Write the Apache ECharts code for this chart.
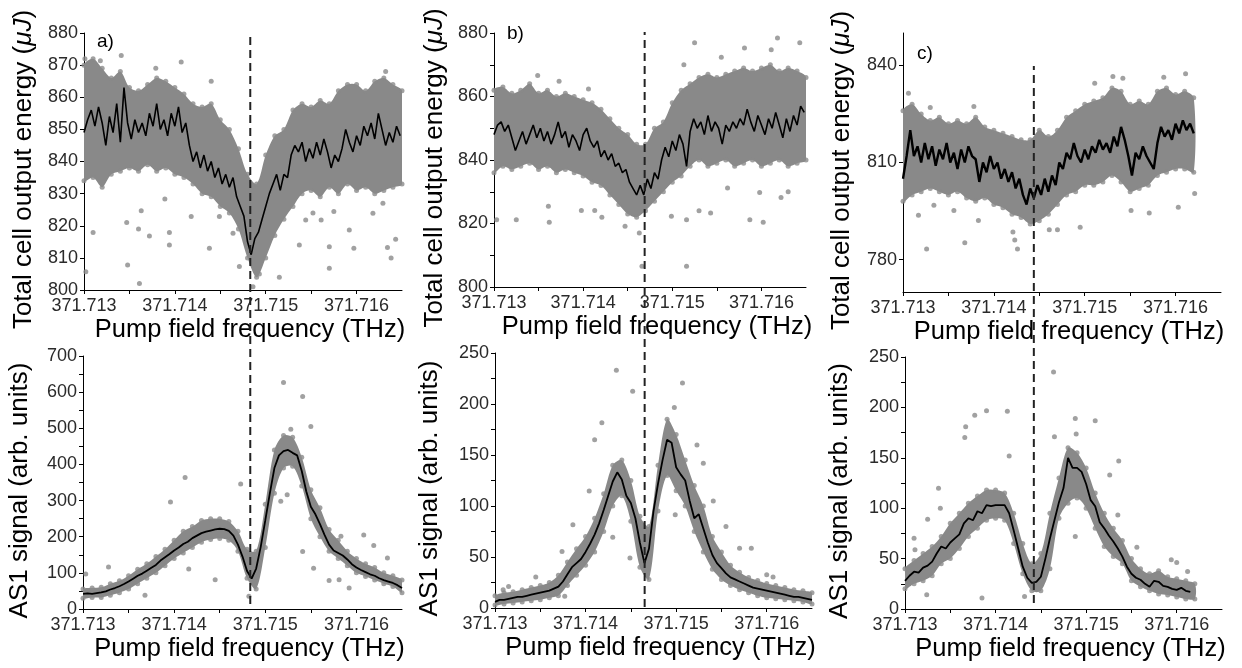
<!DOCTYPE html>
<html><head><meta charset="utf-8">
<script src="https://cdn.jsdelivr.net/npm/echarts@6/dist/echarts.min.js"></script>
<style>html,body{margin:0;padding:0;background:#fff}#c{width:1242px;height:668px}</style>
</head><body><div id="c"></div>
<script>
// ---------- common axis values ----------
const xMin = 371.713, xMax = 371.7165, xTickStep = 0.0005;
const xTitle = 'Pump field frequency (THz)';
const yTitleTop = 'Total cell output energy ({i|μJ})';
const yTitleBottom = 'AS1 signal (arb. units)';
const panelLabels = ['a)', 'b)', 'c)'];
const dashX = [371.71483, 371.71469, 371.71444];

// sampling of the traced curves (THz)
const lineStepTop = 0.00004, lineStepBottom = 0.00005, bandStep = 0.0001;

// ---------- panel a, top ----------
const aTopLine = [849,853,856,851,857,852,845,854,849,858,846,863,852,847,853,849,852,848,855,851,858,850,853,848,855,851,857,849,852,845,840,843,838,842,837,840,835,838,833,836,832,835,829,826,823,815,811,816,818,822,826,830,833,836,831,836,835,842,845,843,846,840,844,841,846,842,847,843,838,842,840,844,850,846,843,848,845,851,848,852,847,855,850,845,849,846,851,848];
const aTopUpper = [870,872,869,866,868,863,862,864,866,865,863,861,858,857,858,853,850,844,836,833,842,848,850,856,858,857,859,858,862,864,864,862,865,866,864,862];
const aTopLower = [834,835,832,836,837,838,837,839,837,838,836,835,833,830,829,826,824,819,810,804,810,817,822,826,830,831,829,832,830,833,831,832,830,831,832,833];
const aTopDots = [[371.71302,805.7],[371.7131,817.9],[371.71347,821],[371.71348,807.8],[371.71361,802],[371.71363,824.7],[371.7136,819],[371.71372,816.8],[371.71389,828.3],[371.71394,817.9],[371.71394,814],[371.71418,822.9],[371.71438,813],[371.71449,822.9],[371.71464,817.7],[371.71471,807.3],[371.71486,801],[371.71493,805],[371.71515,804],[371.71537,814],[371.71544,821.8],[371.71552,824],[371.71561,821.8],[371.7157,813.5],[371.7157,806.8],[371.71575,824.4],[371.71592,818.7],[371.71597,813],[371.71618,823.9],[371.71629,827],[371.71634,813.2],[371.71638,810],[371.71643,815.8],[371.71318,871.4],[371.71379,869],[371.71407,871],[371.7144,865],[371.71632,868],[371.71341,873],[371.71301,872]];

// ---------- panel a, bottom ----------
const aBotLine = [42,43,42,44,46,49,54,58,63,69,76,84,92,98,106,114,122,134,143,152,162,170,180,186,196,203,210,214,217,220,222,221,216,203,178,145,105,84,112,172,245,320,390,425,437,440,432,425,382,325,283,262,235,205,178,162,155,148,137,124,115,108,102,96,92,85,80,76,72,66,58];
const aBotUpper = [55,58,60,70,78,92,110,125,145,165,190,215,228,245,250,250,242,215,165,160,290,440,480,475,420,330,280,220,190,160,140,125,115,100,92,80];
const aBotLower = [30,32,32,38,45,55,70,85,100,120,140,155,170,185,192,195,190,160,85,55,170,320,390,395,340,250,200,160,140,120,100,90,80,70,62,45];
const aBotDots = [[371.71303,97],[371.71328,116],[371.71368,38],[371.71396,296],[371.71412,364],[371.71416,111],[371.71445,81],[371.71473,346],[371.71482,35],[371.7152,627],[371.71541,588],[371.7155,505],[371.71528,497],[371.71517,298],[371.71524,316],[371.71541,159],[371.71553,113],[371.7157,79],[371.71581,81],[371.71592,58],[371.71608,205],[371.71619,176],[371.71634,141],[371.71583,201]];

// ---------- panel b, top ----------
const bTopLine = [848,851,852,849,851,847,843,846,849,845,848,851,847,850,846,849,845,848,852,847,849,844,848,846,843,848,850,846,844,846,841,843,840,842,838,839,836,837,833,831,829,832,829,834,831,836,834,840,844,841,846,843,848,845,838,849,853,850,852,848,854,849,852,850,845,851,849,852,850,853,851,856,852,849,854,851,848,853,850,855,851,847,853,849,854,851,857,855];
const bTopUpper = [862,863,861,862,864,861,862,860,861,860,859,858,856,853,850,848,845,845,850,852,858,862,864,866,867,866,867,868,869,868,869,870,868,869,868,866];
const bTopLower = [836,838,837,838,839,837,838,836,837,836,835,833,832,829,826,823,822,824,827,830,833,835,838,840,838,839,840,838,839,840,838,839,840,838,839,840];
const bTopDots = [[371.71303,821.2],[371.71325,821.2],[371.71362,820.4],[371.71361,825.4],[371.71398,824.1],[371.71413,824.1],[371.71421,822],[371.71447,819.1],[371.71463,817],[371.71466,806.5],[371.71499,822.3],[371.71516,806.5],[371.71516,821.2],[371.7153,824],[371.71543,823.3],[371.71562,831.2],[371.71587,821.2],[371.71602,820.4],[371.71622,828.2],[371.7163,830],[371.71598,829.8],[371.71525,876.9],[371.71555,872.4],[371.71618,878.4],[371.71643,876.9],[371.71581,875.3],[371.71349,866.6],[371.71373,864.8],[371.71406,862.4],[371.71513,870],[371.71611,874.7]];

// ---------- panel b, bottom ----------
const bBotLine = [6,8,8,9,10,11,11,12,13,14,15,16,17,19,21,26,33,40,44,48,55,63,72,83,96,110,124,133,126,110,103,88,64,44,58,95,122,145,165,162,138,131,125,105,88,92,78,64,52,44,39,34,30,28,26,24,22,20,19,18,17,16,15,14,13,12,11,11,10,9,8];
const bBotUpper = [12,15,16,18,20,22,25,32,45,58,70,88,112,140,145,125,90,80,140,185,170,145,120,100,70,55,42,35,30,27,24,22,20,18,17,15];
const bBotLower = [3,4,5,6,7,8,10,12,22,32,42,55,75,100,110,85,40,28,95,130,115,100,75,55,38,28,22,18,15,12,10,9,8,7,6,4];
const bBotDots = [[371.71309,18],[371.71315,21],[371.71345,30.3],[371.71374,55.4],[371.71377,11.4],[371.71386,81.5],[371.71404,114.7],[371.7141,165],[371.71418,181.6],[371.71434,233],[371.7143,69.4],[371.71452,212.5],[371.71449,48.9],[371.71498,196.5],[371.71507,220.7],[371.71499,91.3],[371.71523,159.7],[371.7153,141.8],[371.71541,105],[371.71555,79.9],[371.7157,58.7],[371.71583,58.7],[371.716,32.6],[371.71607,30.3]];

// ---------- panel c, top ----------
const cTopLine = [805,812,820,812,815,810,816,811,815,809,814,811,816,810,813,808,814,810,815,812,811,804,810,807,812,808,810,805,808,804,807,802,805,800,797,802,799,803,800,805,801,806,803,810,808,813,811,816,812,810,814,811,815,813,817,814,816,813,818,815,821,817,812,806,813,811,815,812,810,808,816,821,818,820,817,822,819,823,820,822,819];
const cTopUpper = [826,828,825,823,824,822,823,822,824,821,820,819,818,817,817,820,818,820,824,826,828,829,830,833,832,828,829,828,832,833,831,832,830];
const cTopLower = [798,800,801,802,801,800,801,799,798,799,797,796,794,793,791,792,794,797,800,801,803,803,804,806,804,801,802,803,806,807,808,808,807];
const cTopDots = [[371.71326,783.3],[371.71368,785.2],[371.71383,792.1],[371.71421,788.5],[371.71423,786.1],[371.71426,783.3],[371.71461,789.2],[371.7147,789.2],[371.71495,790],[371.71317,793.7],[371.71334,796.8],[371.71356,795.2],[371.71551,795.2],[371.71571,794.4],[371.71603,796.2],[371.71621,800.4],[371.71511,834.5],[371.71531,836.6],[371.71542,836],[371.71611,837.4],[371.71587,836.3],[371.71306,831.4],[371.7133,827],[371.71378,827.3]];

// ---------- panel c, bottom ----------
const cBotLine = [28,33,37,36,41,43,47,55,62,60,66,70,74,85,90,88,97,95,103,102,103,103,103,95,78,60,42,31,26,27,32,50,70,88,106,120,150,140,140,136,124,108,102,86,80,73,67,60,52,42,35,31,29,25,22,28,27,23,22,20,19,21,18,17];
const cBotUpper = [40,48,55,62,72,85,95,105,112,118,118,115,95,65,45,55,95,130,160,155,140,115,95,80,68,50,40,35,38,32,30,28,25];
const cBotLower = [20,25,28,33,45,50,60,72,80,88,90,88,65,35,18,18,40,90,105,110,100,80,62,52,45,28,22,18,15,14,12,10,10];
const cBotDots = [[371.7131,70.3],[371.71311,58.7],[371.71324,14.2],[371.71325,89],[371.71337,119.7],[371.71339,100],[371.71366,170.2],[371.71367,180.7],[371.71377,192.3],[371.7139,196.6],[371.71413,196.2],[371.71415,151.7],[371.71385,10.9],[371.71464,235.2],[371.71465,170.8],[371.71488,189],[371.71489,173.5],[371.7151,186.7],[371.71526,132.9],[371.71536,146.8],[371.71535,93.3],[371.71556,61.3],[371.71594,48.8],[371.716,46.2],[371.71612,37.3],[371.71488,71.9],[371.71432,12.5]];

// ---------- styling ----------
const FONT = '"Liberation Sans", Arial, Helvetica, sans-serif';
const GRAY = '#898989';

const panels = [
  {grid:{left:84, top:33, width:318, height:257}, y:{min:800,max:880,interval:10}, minor:false, title:yTitleTop, gap:47, xGap:27,
   line:aTopLine, step:lineStepTop, up:aTopUpper, lo:aTopLower, dots:aTopDots, lw:1.6},
  {grid:{left:494, top:33, width:312, height:254}, y:{min:800,max:880,interval:20}, minor:true, title:yTitleTop, gap:46, xGap:27,
   line:bTopLine, step:lineStepTop, up:bTopUpper, lo:bTopLower, dots:bTopDots, lw:1.6},
  {grid:{left:903, top:33, width:318, height:259}, y:{min:770,max:850,interval:10, custom:[780,810,840]}, minor:false, title:yTitleTop, gap:48, xGap:27,
   line:cTopLine, step:lineStepTop, up:cTopUpper, lo:cTopLower, dots:cTopDots, lw:2.4},
  {grid:{left:83, top:356, width:319, height:253}, y:{min:0,max:700,interval:100}, minor:true, title:yTitleBottom, gap:50, xGap:27,
   line:aBotLine, step:lineStepBottom, up:aBotUpper, lo:aBotLower, dots:aBotDots, lw:1.8},
  {grid:{left:495, top:353, width:317, height:255}, y:{min:0,max:250,interval:50}, minor:true, title:yTitleBottom, gap:52, xGap:27,
   line:bBotLine, step:lineStepBottom, up:bBotUpper, lo:bBotLower, dots:bBotDots, lw:1.8},
  {grid:{left:905, top:357, width:317, height:252}, y:{min:0,max:250,interval:50}, minor:true, title:yTitleBottom, gap:52, xGap:27,
   line:cBotLine, step:lineStepBottom, up:cBotUpper, lo:cBotLower, dots:cBotDots, lw:1.8}
];
// dashed guide spans (one per column)
const dashGrids = [
  {left:84, top:33, width:318, height:571},
  {left:494, top:32, width:312, height:575},
  {left:903, top:66, width:318, height:537}
];

const grids = [], xAxes = [], yAxes = [], series = [];
const xFmt = v => (Math.round((v - xMin) / xTickStep) % 2 === 0) ? v.toFixed(3) : '';

panels.forEach((p, i) => {
  grids.push(p.grid);
  xAxes.push({
    gridIndex:i, type:'value', min:xMin, max:xMax, interval:xTickStep,
    axisLine:{show:true, onZero:false, lineStyle:{color:'#000', width:1}},
    axisTick:{show:true, inside:false, length:4, lineStyle:{color:'#000'}},
    axisLabel:{formatter:xFmt, color:'#2a2a2a', fontSize:18, fontFamily:FONT, margin:7, showMaxLabel:false},
    splitLine:{show:false},
    name:xTitle, nameLocation:'middle', nameGap:p.xGap,
    nameTextStyle:{fontSize:25.5, color:'#000', fontFamily:FONT, padding:[0,0,0,14]}
  });
  const ya = {
    gridIndex:i, type:'value', min:p.y.min, max:p.y.max, interval:p.y.interval,
    axisLine:{show:true, onZero:false, lineStyle:{color:'#000', width:1}},
    axisTick:{show:true, inside:false, length:4, lineStyle:{color:'#000'}},
    axisLabel:{color:'#2a2a2a', fontSize:18, fontFamily:FONT, margin:6},
    minorTick:{show:p.minor, splitNumber:2, length:4, lineStyle:{color:'#000'}},
    splitLine:{show:false}, minorSplitLine:{show:false},
    name:p.title, nameLocation:'middle', nameGap:p.gap,
    nameTextStyle:{fontSize:26, color:'#000', fontFamily:FONT, padding:[0,16,0,0],
      rich:{i:{fontStyle:'italic', fontSize:26, color:'#000', fontFamily:FONT}}}
  };
  if (p.y.custom) {
    ya.axisLabel.customValues = p.y.custom;
    ya.axisTick.customValues = p.y.custom;
  }
  yAxes.push(ya);

  const up = p.up, lo = p.lo;
  // dense cloud of points: filled between traced upper/lower edges
  series.push({
    type:'custom', xAxisIndex:i, yAxisIndex:i, z:1, silent:true, clip:true,
    data:[[xMin, up[0]]],
    renderItem:function(params, api){
      const pts = [];
      for (let k = 0; k < up.length; k++) pts.push(api.coord([xMin + k*bandStep, up[k]]));
      for (let k = lo.length - 1; k >= 0; k--) pts.push(api.coord([xMin + k*bandStep, lo[k]]));
      return {type:'polygon', shape:{points:pts, smooth:0.3}, style:{fill:GRAY}};
    }
  });
  // edge points of the cloud
  series.push({
    type:'scatter', xAxisIndex:i, yAxisIndex:i, z:2, silent:true, symbolSize:5,
    itemStyle:{color:GRAY},
    data: up.map((v,k)=>[xMin + k*bandStep, v]).concat(lo.map((v,k)=>[xMin + k*bandStep, v]))
  });
  // outlying points
  series.push({
    type:'scatter', xAxisIndex:i, yAxisIndex:i, z:2, silent:true, symbolSize:5,
    itemStyle:{color:GRAY}, data:p.dots
  });
  // running average (black)
  series.push({
    type:'line', xAxisIndex:i, yAxisIndex:i, z:3, silent:true, symbol:'none',
    lineStyle:{color:'#000', width:p.lw},
    data:p.line.map((v,k)=>[xMin + k*p.step, v])
  });
});

dashGrids.forEach((g, j) => {
  const gi = grids.length;
  grids.push(g);
  xAxes.push({gridIndex:gi, type:'value', min:xMin, max:xMax, show:false});
  yAxes.push({gridIndex:gi, type:'value', min:0, max:1, show:false});
  series.push({
    type:'line', xAxisIndex:gi, yAxisIndex:gi, z:5, silent:true, symbol:'none',
    lineStyle:{color:'#222', width:2, type:[8,5]},
    data:[[dashX[j],0],[dashX[j],1]]
  });
});

const labelPos = [[97,32],[507,24],[917,44]];
const graphics = panelLabels.map((t, j) => ({
  type:'text', left:labelPos[j][0], top:labelPos[j][1], z:10,
  style:{text:t, fontSize:19, fontFamily:FONT, fill:'#000'}
}));

const chart = echarts.init(document.getElementById('c'), null, {renderer:'canvas'});
chart.setOption({
  animation:false,
  backgroundColor:'#fff',
  grid:grids, xAxis:xAxes, yAxis:yAxes, series:series, graphic:graphics
});
</script>
</body></html>
